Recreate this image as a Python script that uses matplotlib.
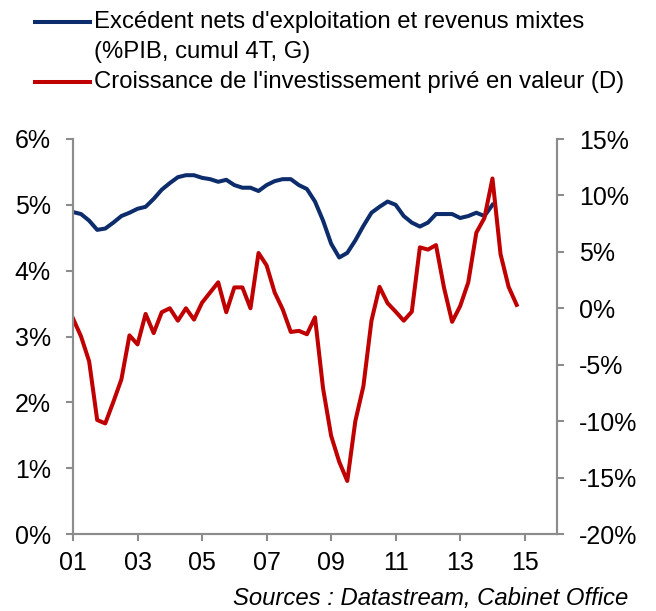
import matplotlib.pyplot as plt
from matplotlib.lines import Line2D
import numpy as np

plt.rcParams['font.family'] = ['Liberation Sans', 'DejaVu Sans']

# Quarterly data, 2001Q1 onwards
surplus = [4.89, 4.86, 4.76, 4.62, 4.64, 4.73, 4.83, 4.88, 4.94, 4.97,
           5.09, 5.23, 5.33, 5.42, 5.45, 5.45, 5.41, 5.39, 5.35, 5.38,
           5.30, 5.26, 5.26, 5.21, 5.30, 5.36, 5.39, 5.39, 5.30, 5.24,
           5.05, 4.76, 4.41, 4.20, 4.27, 4.46, 4.68, 4.88, 4.97, 5.05,
           5.00, 4.83, 4.73, 4.67, 4.73, 4.86, 4.86, 4.86, 4.80, 4.83,
           4.88, 4.83, 5.00]
invest = [-0.9, -2.5, -4.7, -9.9, -10.2, -8.3, -6.3, -2.4, -3.2, -0.5,
          -2.2, -0.35, 0.0, -1.1, 0.0, -1.0, 0.5, 1.4, 2.3, -0.35,
          1.85, 1.85, 0.0, 4.9, 3.8, 1.4, -0.1, -2.1, -2.0, -2.3,
          -0.8, -7.1, -11.3, -13.6, -15.3, -10.0, -6.9, -1.1, 1.9, 0.45,
          -0.3, -1.1, -0.3, 5.4, 5.2, 5.6, 1.8, -1.2, 0.2, 2.3,
          6.7, 8.0, 11.5, 4.8, 1.9, 0.3]

t_surplus = 2001 + np.arange(len(surplus)) / 4
t_invest = 2001 + np.arange(len(invest)) / 4

year_ticks = np.arange(2001, 2016, 2)
year_labels = ['01', '03', '05', '07', '09', '11', '13', '15']

blue = '#0c2c6c'
red = '#c00000'
grey = '#8c8c8c'

fig = plt.figure(figsize=(6.56, 6.11), dpi=100)
ax = fig.add_axes([73 / 656, 1 - 534 / 611, 484 / 656, 395 / 611])
ax2 = ax.twinx()

ax.plot(t_surplus, surplus, color=blue, lw=2.9, solid_joinstyle='round')
ax2.plot(t_invest, invest, color=red, lw=2.9, solid_joinstyle='round')

ax.set_xlim(2001, 2016)
ax.set_ylim(0, 6)
ax2.set_ylim(-20, 15)
ax.set_xticks(year_ticks)
ax.set_xticklabels(year_labels)
ax.set_yticks(np.arange(0, 7))
ax.set_yticklabels([f'{v}%' for v in range(0, 7)])
ax2.set_yticks(np.arange(-20, 16, 5))
ax2.set_yticklabels([f'{v}%' for v in range(-20, 16, 5)])

for a in (ax, ax2):
    a.spines['top'].set_visible(False)
    for s in ('left', 'right', 'bottom'):
        a.spines[s].set_color(grey)
        a.spines[s].set_linewidth(1.5)
    a.tick_params(colors=grey, width=1.5, length=5, labelcolor='black',
                  labelsize=18)
ax.tick_params(axis='y', pad=11)
ax2.tick_params(axis='y', pad=11)
ax.tick_params(axis='x', pad=7)

# Legend drawn by hand so each key line sits on the first text row
fig.add_artist(Line2D([35 / 656, 90 / 656], [1 - 22 / 611] * 2, color=blue, lw=2.9))
fig.add_artist(Line2D([35 / 656, 90 / 656], [1 - 82 / 611] * 2, color=red, lw=2.9))
fig.text(94 / 656, 1 - 22 / 611, "Excédent nets d'exploitation et revenus mixtes",
         fontsize=17.2, va='center', ha='left')
fig.text(94 / 656, 1 - 52 / 611, "(%PIB, cumul 4T, G)",
         fontsize=17.2, va='center', ha='left')
fig.text(94 / 656, 1 - 82 / 611, "Croissance de l'investissement privé en valeur (D)",
         fontsize=17.2, va='center', ha='left')

fig.text(628 / 656, 1 - 598 / 611, 'Sources : Datastream, Cabinet Office',
         fontsize=17.2, style='italic', va='center', ha='right')

fig.savefig('out.png', dpi=100)
